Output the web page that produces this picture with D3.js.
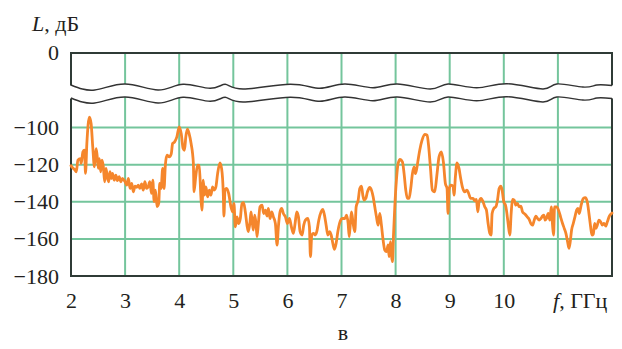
<!DOCTYPE html>
<html>
<head>
<meta charset="utf-8">
<script src="https://cdn.jsdelivr.net/npm/d3@7"></script>
<style>
  html, body { margin: 0; padding: 0; background: #fff; }
  svg { display: block; }
</style>
</head>
<body>
<script>
// Spectrum level L (dB) versus frequency f (GHz)
const freqGHz = [
  2.000, 2.024, 2.067, 2.098, 2.128, 2.171, 2.189, 2.220, 2.250, 2.268,
  2.293, 2.341, 2.372, 2.402, 2.433, 2.463, 2.482, 2.506, 2.524, 2.549,
  2.573, 2.598, 2.622, 2.646, 2.671, 2.695, 2.720, 2.744, 2.768, 2.799,
  2.829, 2.860, 2.890, 2.921, 2.951, 3.000, 3.030, 3.061, 3.091, 3.122,
  3.152, 3.183, 3.213, 3.244, 3.274, 3.305, 3.335, 3.366, 3.396, 3.427,
  3.457, 3.488, 3.512, 3.537, 3.561, 3.591, 3.622, 3.640, 3.665, 3.695,
  3.720, 3.744, 3.774, 3.817, 3.854, 3.878, 3.915, 3.957, 4.000, 4.037,
  4.073, 4.098, 4.122, 4.152, 4.183, 4.220, 4.262, 4.274, 4.305, 4.341,
  4.370, 4.401, 4.420, 4.444, 4.469, 4.494, 4.525, 4.556, 4.586, 4.617,
  4.648, 4.679, 4.710, 4.753, 4.784, 4.815, 4.827, 4.846, 4.877, 4.914,
  4.957, 4.988, 5.012, 5.037, 5.068, 5.099, 5.130, 5.160, 5.191, 5.222,
  5.253, 5.278, 5.309, 5.327, 5.346, 5.370, 5.395, 5.420, 5.438, 5.463,
  5.494, 5.531, 5.562, 5.593, 5.623, 5.648, 5.679, 5.710, 5.741, 5.778,
  5.809, 5.833, 5.864, 5.895, 5.926, 5.963, 6.000, 6.037, 6.074, 6.111,
  6.142, 6.173, 6.204, 6.235, 6.272, 6.302, 6.333, 6.377, 6.407, 6.426,
  6.451, 6.481, 6.512, 6.543, 6.580, 6.623, 6.654, 6.685, 6.716, 6.747,
  6.778, 6.809, 6.840, 6.870, 6.901, 6.932, 6.963,
  7.012, 7.062, 7.092, 7.123, 7.142, 7.166, 7.185, 7.215, 7.246, 7.271,
  7.308, 7.338, 7.369, 7.394, 7.418, 7.449, 7.480, 7.523, 7.554, 7.585,
  7.615, 7.646, 7.677, 7.708, 7.738, 7.769, 7.800, 7.831, 7.862, 7.880,
  7.905, 7.923, 7.942, 7.960, 7.985, 8.015, 8.046, 8.083, 8.126, 8.157,
  8.188, 8.218, 8.249, 8.280, 8.311, 8.342, 8.366, 8.391, 8.415, 8.446,
  8.489, 8.538, 8.582, 8.612, 8.643, 8.680, 8.723, 8.760, 8.803, 8.846,
  8.883, 8.920, 8.951, 8.969, 8.988, 9.018, 9.062, 9.080, 9.105, 9.135,
  9.172, 9.203, 9.234, 9.277, 9.320, 9.351, 9.388,
  9.432, 9.463, 9.494, 9.519, 9.543, 9.580, 9.617, 9.648, 9.679, 9.710,
  9.741, 9.765, 9.784, 9.815, 9.852, 9.883, 9.914, 9.944, 9.969, 10.000,
  10.031, 10.049, 10.080, 10.111, 10.136, 10.160, 10.191, 10.222, 10.253, 10.284,
  10.315, 10.346, 10.389, 10.432, 10.469, 10.500, 10.531, 10.562, 10.593, 10.623,
  10.654, 10.685, 10.716, 10.741, 10.765, 10.790, 10.821, 10.852, 10.877, 10.901,
  10.920, 10.938, 10.975, 11.012, 11.049, 11.086, 11.117, 11.148, 11.179, 11.204,
  11.228, 11.253, 11.284, 11.315, 11.346, 11.370, 11.395, 11.426, 11.469, 11.506,
  11.543, 11.574, 11.605, 11.630, 11.654, 11.679, 11.704, 11.728, 11.759, 11.790,
  11.821, 11.852, 11.883, 11.914, 11.951, 11.981, 12.000
];

const levelDb = [
  -120.5, -121.5, -122.6, -123.8, -117.5, -116.7, -119.3, -113.1, -112.2, -124.7,
  -108.6, -94.3, -97.9, -110.4, -121.1, -111.3, -114.9, -122.0, -116.7, -123.8,
  -117.5, -121.1, -129.2, -122.0, -126.5, -129.2, -123.8, -127.4, -124.7, -128.3,
  -125.6, -128.6, -126.5, -129.2, -127.4, -129.2, -131.0, -127.4, -132.8, -130.1,
  -134.6, -131.5, -132.2, -131.0, -132.8, -130.4, -133.7, -129.2, -132.8, -131.9,
  -129.2, -135.5, -128.3, -139.9, -133.7, -142.6, -140.8, -130.1, -132.8, -122.0,
  -132.8, -120.2, -114.9, -115.8, -114.0, -108.6, -107.7, -105.0, -99.6, -103.2,
  -111.3, -112.2, -105.0, -100.9, -103.2, -108.6, -119.3, -134.6, -126.5, -120.2,
  -120.3, -137.3, -144.5, -128.3, -136.4, -131.9, -137.3, -133.7, -136.4, -131.9,
  -133.7, -131.9, -124.8, -119.0, -122.1, -135.5, -147.7, -133.7, -132.8, -135.5,
  -142.7, -145.4, -140.9, -153.5, -148.1, -151.7, -149.0, -140.9, -140.5, -145.4,
  -152.6, -156.1, -150.8, -145.4, -149.9, -155.2, -147.2, -151.7, -158.8, -151.7,
  -142.7, -141.8, -146.3, -144.5, -147.7, -143.6, -149.0, -145.4, -148.1, -151.7,
  -163.3, -153.5, -145.4, -143.6, -146.3, -148.1, -151.7, -149.0, -153.5, -157.0,
  -151.7, -145.4, -148.1, -156.1, -157.9, -152.6, -149.9, -149.0, -153.5, -169.6,
  -157.9, -157.0, -157.9, -156.1, -149.9, -145.4, -144.1, -147.2, -152.6, -157.9,
  -156.1, -157.9, -162.4, -165.6, -162.4, -156.1, -151.7,
  -149.0, -149.0, -147.2, -151.7, -158.8, -150.8, -145.4, -151.7, -156.1, -142.7,
  -139.1, -132.8, -131.6, -136.4, -139.1, -138.2, -134.6, -132.3, -133.7, -137.3,
  -142.7, -148.1, -152.6, -146.3, -152.6, -160.6, -166.0, -166.9, -163.3, -169.6,
  -161.5, -168.7, -172.3, -158.8, -142.7, -128.3, -119.4, -117.2, -118.5, -124.8,
  -133.7, -138.2, -138.2, -132.8, -124.8, -121.2, -124.8, -122.0, -117.6, -112.2,
  -106.8, -103.6, -104.1, -110.4, -121.2, -133.7, -134.6, -126.5, -115.8, -113.1,
  -118.5, -130.1, -132.8, -146.3, -133.7, -131.0, -131.6, -136.4, -126.5, -119.0,
  -122.0, -127.4, -131.9, -134.6, -133.7, -135.5, -138.2,
  -138.2, -139.5, -138.7, -145.4, -140.0, -138.2, -140.0, -142.7, -144.5, -151.7,
  -157.0, -157.9, -146.3, -143.6, -142.7, -139.1, -132.8, -131.6, -133.7, -140.0,
  -141.8, -144.5, -151.7, -157.9, -146.3, -138.7, -139.1, -141.8, -140.9, -142.7,
  -142.3, -145.4, -146.6, -148.1, -149.5, -151.7, -152.6, -149.9, -147.7, -149.0,
  -149.9, -149.0, -147.7, -147.2, -149.9, -149.0, -146.3, -149.9, -142.7, -152.6,
  -157.9, -142.7, -142.7, -144.5, -148.1, -151.7, -154.3, -157.0, -161.5, -165.1,
  -161.5, -155.2, -151.7, -148.1, -144.5, -143.6, -146.3, -142.3, -138.2, -137.7,
  -140.0, -146.3, -153.5, -157.9, -157.4, -151.7, -154.3, -152.6, -149.9, -150.8,
  -152.6, -151.7, -153.1, -150.8, -147.7, -146.6, -146.0
];

const xTicks = [2, 3, 4, 5, 6, 7, 8, 9, 10];
const xGrid = [3, 4, 5, 6, 7, 8, 9, 10, 11];
const yTicks = [-180, -160, -140, -120, -100];
const yGrid = [-160, -140, -120, -100];

// Hand-drawn axis break: frequency position and ripple of the cut line
const breakF = [2.0, 2.44, 3.0, 3.61, 4.07, 4.57, 4.85, 5.18, 6.05, 6.60, 7.06,
                7.58, 8.03, 8.64, 8.97, 9.50, 10.06, 10.72, 10.98, 11.46, 11.72, 12.0];
const breakRipple = [-1.5, 3.5, -2.5, 3.5, -2.2, 1.8, -2.2, 2.5, -2.2, 1.8, -2.5,
                     1.2, -2.5, 2.5, -2.5, 1.2, -2.8, 2.5, -2.5, 0.5, -1.5, -1.0];

const W = 622, H = 349;
const plotLeft = 71, plotRight = 612, plotBottom = 276, plotTop = 53;
const breakUpper = 86.5, breakGap = 13;
const FONT = '"Liberation Serif", "Times New Roman", serif';
const INK = "#231f20";

const svg = d3.select("body").append("svg").attr("width", W).attr("height", H);

const x = d3.scaleLinear().domain([2, 12]).range([plotLeft, plotRight]);
const y = d3.scaleLinear().domain([-180, -100]).range([plotBottom, 127.6]);

const gridColor = "#74c59c";
const frameColor = "#2f3b36";

// grid
svg.append("g").selectAll("line").data(xGrid).join("line")
  .attr("x1", d => x(d)).attr("x2", d => x(d))
  .attr("y1", plotTop).attr("y2", plotBottom)
  .attr("stroke", gridColor).attr("stroke-width", 2);
svg.append("g").selectAll("line").data(yGrid).join("line")
  .attr("x1", plotLeft).attr("x2", plotRight)
  .attr("y1", d => y(d)).attr("y2", d => y(d))
  .attr("stroke", gridColor).attr("stroke-width", 2);

// frame
svg.append("rect")
  .attr("x", plotLeft).attr("y", plotTop)
  .attr("width", plotRight - plotLeft).attr("height", plotBottom - plotTop)
  .attr("fill", "none").attr("stroke", frameColor).attr("stroke-width", 2);

// spectrum curve
const pts = freqGHz.map((f, i) => [f, levelDb[i]]);
svg.append("path")
  .datum(pts)
  .attr("fill", "none")
  .attr("stroke", "#f5862c")
  .attr("stroke-width", 2.8)
  .attr("stroke-linejoin", "round")
  .attr("stroke-linecap", "round")
  .attr("d", d3.line().x(d => x(d[0])).y(d => y(d[1])).curve(d3.curveMonotoneX));

// axis break: white band between two wavy cut lines
const upperPts = breakF.map((f, i) => [x(f), breakUpper + breakRipple[i]]);
upperPts[0][0] -= 2;
upperPts[upperPts.length - 1][0] += 2;
const lowerPts = upperPts.map(p => [p[0], p[1] + breakGap]);
const wave = d3.line().curve(d3.curveNatural);
const lowerRev = wave(lowerPts.slice().reverse());
svg.append("path")
  .attr("d", wave(upperPts) + "L" + lowerRev.slice(1) + "Z")
  .attr("fill", "#fff").attr("stroke", "none");
const innerUpper = upperPts.map(p => p.slice());
innerUpper[0][0] += 2; innerUpper[innerUpper.length - 1][0] -= 2;
const innerLower = innerUpper.map(p => [p[0], p[1] + breakGap]);
svg.append("path").attr("d", wave(innerUpper))
  .attr("fill", "none").attr("stroke", "#333").attr("stroke-width", 1.4);
svg.append("path").attr("d", wave(innerLower))
  .attr("fill", "none").attr("stroke", "#333").attr("stroke-width", 1.4);

// axes
const yAxis = svg.append("g")
  .attr("transform", `translate(${plotLeft},0)`)
  .call(d3.axisLeft(y).tickValues(yTicks).tickSize(0).tickPadding(12));
yAxis.select(".domain").remove();
yAxis.selectAll("text").attr("font-size", 22).style("font-family", FONT).attr("fill", INK);

const xAxis = svg.append("g")
  .attr("transform", `translate(0,${plotBottom})`)
  .call(d3.axisBottom(x).tickValues(xTicks).tickSize(0).tickPadding(16).tickFormat(d3.format("d")));
xAxis.select(".domain").remove();
xAxis.selectAll("text").attr("font-size", 22).style("font-family", FONT).attr("fill", INK);

svg.append("text").attr("x", plotLeft - 12).attr("y", plotTop).attr("dy", "0.32em")
  .attr("text-anchor", "end").attr("font-size", 22).style("font-family", FONT).attr("fill", INK)
  .text("0");

// axis titles
const yTitle = svg.append("text").attr("x", 32).attr("y", 31).attr("font-size", 22)
  .style("font-family", FONT).attr("fill", INK);
yTitle.append("tspan").attr("font-style", "italic").text("L");
yTitle.append("tspan").text(", дБ");

const xTitle = svg.append("text").attr("x", 553).attr("y", 308).attr("font-size", 22)
  .style("font-family", FONT).attr("fill", INK);
xTitle.append("tspan").attr("font-style", "italic").text("f");
xTitle.append("tspan").text(", ГГц");

svg.append("text").attr("x", 343).attr("y", 340).attr("text-anchor", "middle")
  .attr("font-size", 22).style("font-family", FONT).attr("fill", INK).text("в");
</script>
</body>
</html>
